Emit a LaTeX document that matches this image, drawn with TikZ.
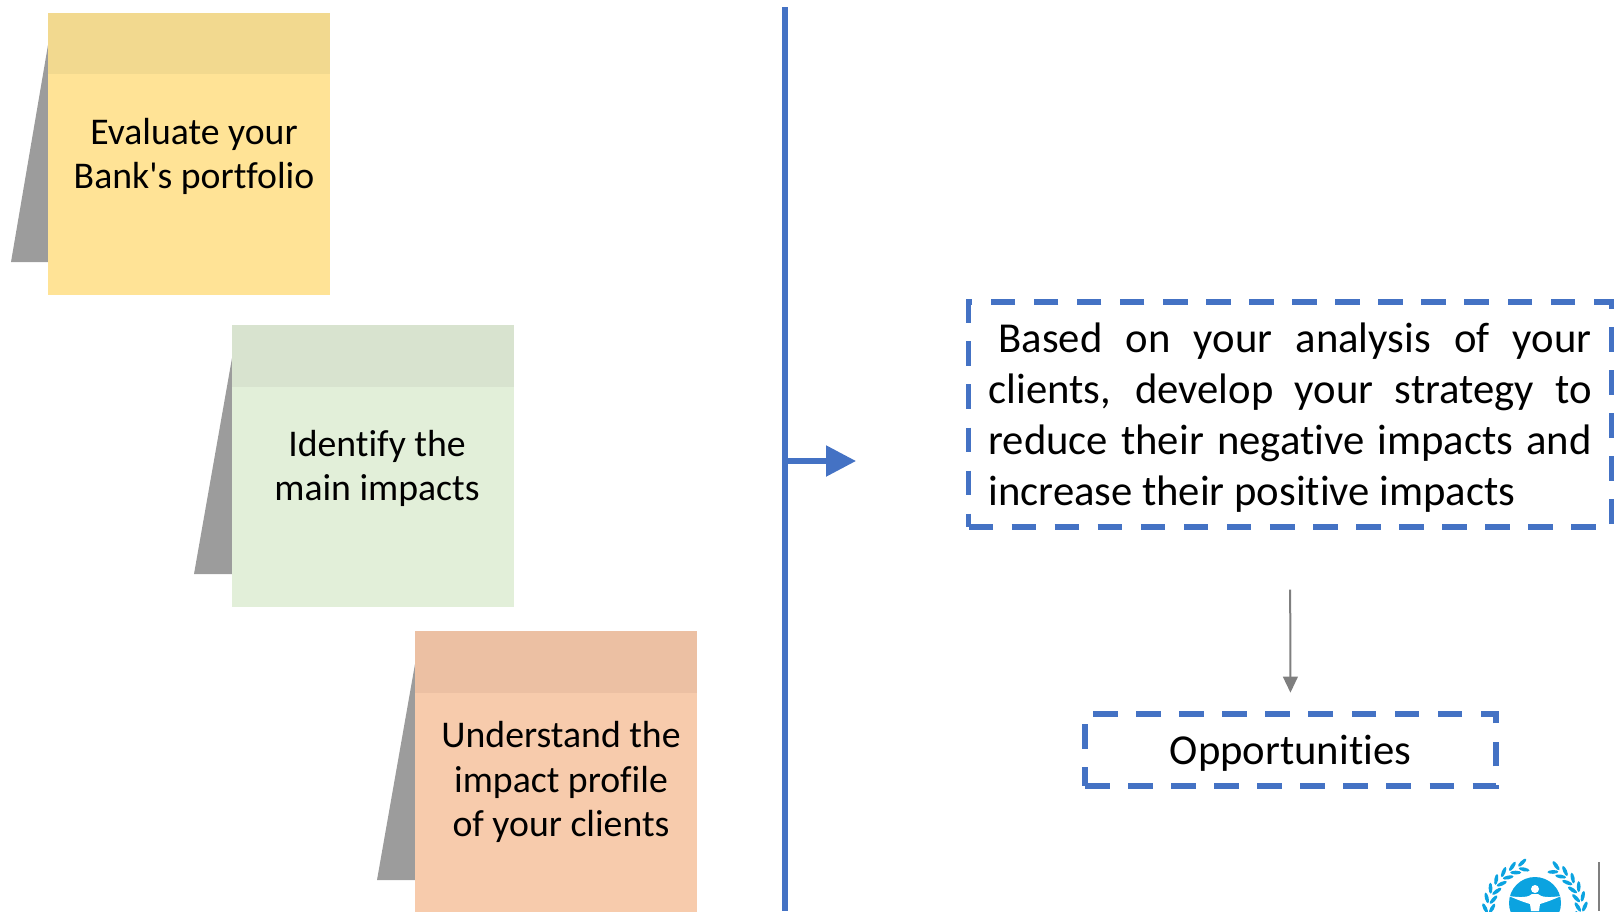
\documentclass[tikz,border=0pt]{standalone}
\usepackage{fontspec}
\setmainfont{Carlito}[Ligatures={NoCommon,TeXOff}]
\usetikzlibrary{arrows.meta}
\definecolor{ublue}{HTML}{4472C4}
\definecolor{ugrey}{HTML}{7F7F7F}
\definecolor{foldgrey}{HTML}{9C9C9C}
\definecolor{yel}{HTML}{FFE396}
\definecolor{yelh}{HTML}{F2D98F}
\definecolor{gre}{HTML}{E2EFD9}
\definecolor{greh}{HTML}{D8E3CF}
\definecolor{ora}{HTML}{F7CBAC}
\definecolor{orah}{HTML}{ECC0A3}
\definecolor{unep}{HTML}{0BA3E0}
\tikzset{
  sticky/.style={inner sep=0pt,outer sep=0pt,minimum width=211.5pt,anchor=north west},
  stickytext/.style={inner sep=0pt,align=center,font=\fontsize{28.3pt}{33.5pt}\selectfont},
  dashbox/.style={draw=ublue,line width=4pt,dash pattern=on 18.4pt off 13.9pt,inner sep=0pt,outer sep=0pt}
}
\begin{document}
\begin{tikzpicture}[x=0.75pt,y=-0.75pt]
\useasboundingbox (0,0) rectangle (1616,911);
\clip (0,0) rectangle (1616,911);
% sticky 1
\fill[foldgrey] (48,45) -- (11,262) -- (48,262) -- cycle;
\node[sticky,fill=yel,minimum height=211.5pt] (s1) at (48,13) {};
\node[sticky,fill=yelh,minimum height=45.75pt] (h1) at (48,13) {};
\node[stickytext] (t1) at (194,156.5) {Evaluate your\\Bank's portfolio};
% sticky 2
\fill[foldgrey] (232,358) -- (194,574) -- (232,574) -- cycle;
\node[sticky,fill=gre,minimum height=211pt] (s2) at (232,325.2) {};
\node[sticky,fill=greh,minimum height=46pt] (h2) at (232,325.2) {};
\node[stickytext] (t2) at (377,468.5) {Identify the\\main impacts};
% sticky 3
\fill[foldgrey] (415,664) -- (377,880) -- (415,880) -- cycle;
\node[sticky,fill=ora,minimum height=211.5pt] (s3) at (415,631) {};
\node[sticky,fill=orah,minimum height=46.5pt] (h3) at (415,631) {};
\node[stickytext] (t3) at (561,782) {Understand the\\impact profile\\of your clients};
% divider and arrow
\coordinate (dtop) at (785,7);
\coordinate (dbot) at (785,911);
\coordinate (astart) at (785,461);
\coordinate (aend) at (856,461);
\draw[ublue,line width=4.5pt] (dtop) -- (dbot);
\draw[ublue,line width=4pt,-{Triangle[length=22.5pt,width=22.5pt]}] (astart) -- (aend);
% boxes
\node[dashbox,minimum width=482.25pt,minimum height=168.75pt] (b1) at (1290,414.5) {};
\node[inner sep=0pt,text width=452.25pt,align=justify,font=\fontsize{32pt}{38.3pt}\selectfont] (b1t) at (1290,417.5)
  {\hspace*{7.5pt}Based on your analysis of your\linebreak clients, develop your strategy to\linebreak reduce their negative impacts and\linebreak increase their positive impacts};
\node[dashbox,minimum width=308.25pt,minimum height=54pt] (b2) at (1290.5,750) {};
\node[inner sep=0pt,font=\fontsize{32pt}{38pt}\selectfont] (b2t) at (1290.5,753) {Opportunities};
\draw[ugrey,line width=1.5pt,shorten <=47pt,shorten >=16pt,-{Triangle[length=12pt,width=11pt]}] (b1.south) -- (b2.north);
% logo
\coordinate (lc) at (1535,903);
\coordinate (wc) at (1535,911);
\fill[unep] (lc) circle (26);
\fill[white] (1535,889) circle (4);
\fill[white] (1509,896) .. controls (1522,898) and (1529,897) .. (1532,894) -- (1538,894) .. controls (1541,897) and (1548,898) .. (1561,896) .. controls (1550,901) and (1543,903) .. (1540,904) -- (1539,911) -- (1531,911) -- (1530,904) .. controls (1527,903) and (1520,901) .. (1509,896) -- cycle;
\foreach \a in {106,118,...,190}{
  \fill[unep,shift={(wc)},rotate=\a,shift={(50,1)},rotate=28] (0,0) ellipse (1.9 and 5.5);
  \fill[unep,shift={(wc)},rotate=\a,shift={(43,1)},rotate=-28] (0,0) ellipse (1.9 and 5.5);
}
\foreach \a in {-8,4,...,64}{
  \fill[unep,shift={(wc)},rotate=\a,shift={(50,-1)},rotate=-28] (0,0) ellipse (1.9 and 5.5);
  \fill[unep,shift={(wc)},rotate=\a,shift={(43,-1)},rotate=28] (0,0) ellipse (1.9 and 5.5);
}
\coordinate (ltop) at (1599,862);
\coordinate (lbot) at (1599,911);
\draw[ugrey,line width=1.1pt] (ltop) -- (lbot);
\end{tikzpicture}
\end{document}
